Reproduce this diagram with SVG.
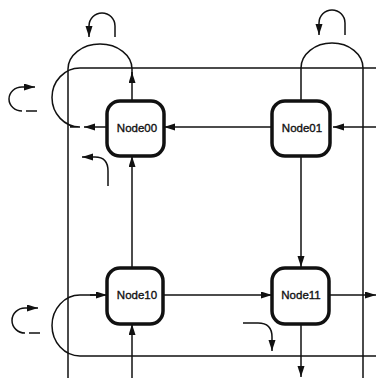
<svg xmlns="http://www.w3.org/2000/svg" width="376" height="378" viewBox="0 0 376 378">
  <style>
    .wire { fill: none; stroke: #111; stroke-width: 1.5; }
    .arw { fill: none; stroke: #111; stroke-width: 1.5; marker-end: url(#head); }
    .box { fill: #fff; stroke: #111; stroke-width: 3.5; }
    .lbl { font-family: "Liberation Sans", Arial, sans-serif; font-size: 11.5px; fill: #111; stroke: #111; stroke-width: 0.35; text-anchor: middle; }
  </style>
  <defs>
    <marker id="head" markerUnits="userSpaceOnUse" markerWidth="12" markerHeight="8" refX="11" refY="3.5" orient="auto">
      <path d="M0,0 L11,3.5 L0,7 z" fill="#111"/>
    </marker>
  </defs>
  <rect width="376" height="378" fill="#fff"/>

  <g id="connectors">
    <!-- wrap-around rails -->
    <path class="wire" d="M376,68 H80 A28,29.5 0 0 0 80,127 H70"/>
    <path class="arw" d="M107,127 H84"/>
    <path class="wire" d="M68,378 V69 A32,25 0 0 1 132,69 V75"/>
    <path class="arw" d="M132,101 V72"/>
    <path class="wire" d="M363,378 V68 A31,25 0 0 0 301,68 V101"/>
    <path class="wire" d="M376,356 H80 A28,30.5 0 0 1 80,295 H96"/>
    <path class="arw" d="M90,295 H107"/>

    <!-- mesh links -->
    <path class="arw" d="M272,127 H164"/>
    <path class="arw" d="M376,127 H333"/>
    <path class="arw" d="M132,267 V156"/>
    <path class="arw" d="M301,156 V267"/>
    <path class="arw" d="M163,295 H272"/>
    <path class="arw" d="M329,295 H376"/>
    <path class="arw" d="M132,378 V324"/>
    <path class="arw" d="M301,324 V377"/>

    <!-- loop glyphs -->
    <path class="arw" d="M115,37 V26 A13,13 0 0 0 89,26 V37"/>
    <path class="arw" d="M345,35 V23 A13,13 0 0 0 319,23 V35"/>
    <path class="arw" d="M22,111 A13,12 0 0 1 22,87 H35"/>
    <path class="wire" d="M26,111 H37"/>
    <path class="arw" d="M25,333 A13,12.5 0 0 1 25,308 H38"/>
    <path class="wire" d="M29,333 H40"/>
    <path class="arw" d="M108,186 V171 Q108,157 95,157 H82"/>
    <path class="arw" d="M243,323 H258 Q272,323 272,337 V351"/>
  </g>

  <g id="node00">
    <rect class="box" x="107" y="101" width="57" height="55" rx="13"/>
    <text class="lbl" x="137" y="132">Node00</text>
  </g>
  <g id="node01">
    <rect class="box" x="272" y="101" width="58" height="55" rx="13"/>
    <text class="lbl" x="302" y="132">Node01</text>
  </g>
  <g id="node10">
    <rect class="box" x="107" y="268" width="56" height="56" rx="13"/>
    <text class="lbl" x="137" y="299">Node10</text>
  </g>
  <g id="node11">
    <rect class="box" x="272" y="268" width="57" height="56" rx="13"/>
    <text class="lbl" x="301" y="299">Node11</text>
  </g>
</svg>
